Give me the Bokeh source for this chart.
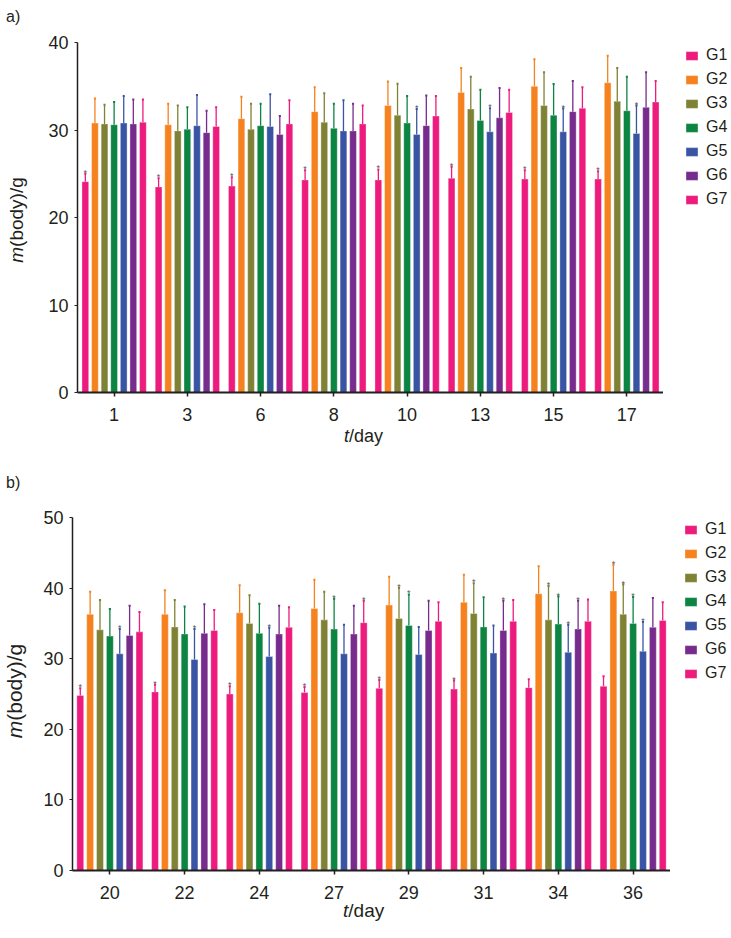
from bokeh.plotting import figure
from bokeh.models import (ColumnDataSource, FactorRange, Range1d, Legend, LegendItem,
                          FixedTicker, Div)
from bokeh.transform import dodge
from bokeh.layouts import column, row
from bokeh.embed import file_html
from bokeh.resources import INLINE
from bokeh.core.properties import value

FONT = "Liberation Sans"
INK = "#231F20"
groups = ["G1", "G2", "G3", "G4", "G5", "G6", "G7"]
colors = ["#EC1B7D", "#F5821F", "#7F8235", "#0C8442", "#3A54A4", "#762B8D", "#EC1B7D"]

# ---------------- panel a ----------------
days_a = ["1", "3", "6", "8", "10", "13", "15", "17"]
a_mean_G1 = [24.1, 23.5, 23.6, 24.3, 24.3, 24.5, 24.4, 24.4]
a_mean_G2 = [30.8, 30.6, 31.3, 32.1, 32.8, 34.3, 35.0, 35.4]
a_mean_G3 = [30.7, 29.9, 30.1, 30.9, 31.7, 32.4, 32.8, 33.3]
a_mean_G4 = [30.6, 30.1, 30.5, 30.2, 30.8, 31.1, 31.7, 32.2]
a_mean_G5 = [30.8, 30.5, 30.4, 29.9, 29.5, 29.8, 29.8, 29.6]
a_mean_G6 = [30.7, 29.7, 29.5, 29.9, 30.5, 31.4, 32.1, 32.6]
a_mean_G7 = [30.9, 30.4, 30.7, 30.7, 31.6, 32.0, 32.5, 33.2]
a_sd_G1 = [0.9, 1.0, 1.0, 1.1, 1.2, 1.3, 1.0, 0.9]
a_sd_G2 = [2.8, 2.4, 2.5, 2.8, 2.75, 2.8, 3.1, 3.1]
a_sd_G3 = [2.2, 2.9, 2.9, 3.3, 3.6, 3.7, 3.8, 3.8]
a_sd_G4 = [2.6, 2.5, 2.5, 2.8, 3.1, 3.5, 3.55, 3.9]
a_sd_G5 = [3.1, 3.5, 3.7, 3.5, 2.9, 2.7, 2.65, 3.2]
a_sd_G6 = [2.8, 2.5, 2.1, 3.1, 3.45, 3.4, 3.5, 4.0]
a_sd_G7 = [2.6, 2.2, 2.7, 2.1, 2.3, 2.6, 2.4, 2.4]
a_star_G1 = [1, 1, 1, 1, 1, 1, 1, 1]
a_star_G2 = [0, 0, 0, 0, 0, 0, 0, 0]
a_star_G3 = [0, 0, 0, 0, 0, 0, 0, 0]
a_star_G4 = [0, 0, 0, 0, 0, 0, 0, 0]
a_star_G5 = [0, 0, 0, 0, 1, 1, 1, 1]
a_star_G6 = [0, 0, 0, 0, 0, 0, 0, 0]
a_star_G7 = [0, 0, 0, 0, 0, 0, 0, 0]

# ---------------- panel b ----------------
days_b = ["20", "22", "24", "27", "29", "31", "34", "36"]
b_mean_G1 = [24.8, 25.3, 25.0, 25.2, 25.8, 25.7, 25.9, 26.1]
b_mean_G2 = [36.3, 36.3, 36.5, 37.1, 37.6, 38.0, 39.2, 39.6]
b_mean_G3 = [34.1, 34.5, 35.0, 35.5, 35.7, 36.4, 35.5, 36.3]
b_mean_G4 = [33.2, 33.5, 33.6, 34.2, 34.7, 34.5, 34.9, 35.0]
b_mean_G5 = [30.7, 29.9, 30.3, 30.7, 30.6, 30.8, 30.9, 31.05]
b_mean_G6 = [33.3, 33.6, 33.5, 33.5, 34.0, 34.0, 34.2, 34.45]
b_mean_G7 = [33.8, 34.0, 34.45, 35.1, 35.3, 35.3, 35.3, 35.4]
b_sd_G1 = [1.0, 1.0, 1.1, 0.8, 1.2, 1.2, 1.2, 1.4]
b_sd_G2 = [3.2, 3.4, 3.9, 4.1, 4.0, 3.9, 3.9, 3.7]
b_sd_G3 = [4.2, 3.8, 4.0, 4.0, 4.3, 4.3, 4.8, 4.2]
b_sd_G4 = [3.85, 3.9, 4.2, 4.3, 4.4, 4.2, 3.9, 3.75]
b_sd_G5 = [3.5, 4.3, 4.1, 4.1, 3.9, 3.9, 3.9, 4.15]
b_sd_G6 = [4.2, 4.1, 4.0, 4.0, 4.2, 4.2, 4.0, 4.15]
b_sd_G7 = [2.8, 2.9, 2.85, 3.1, 2.7, 3.0, 3.1, 2.6]
b_star_G1 = [1, 1, 1, 1, 1, 1, 0, 0]
b_star_G2 = [0, 0, 0, 0, 0, 0, 0, 1]
b_star_G3 = [0, 0, 0, 0, 1, 1, 1, 1]
b_star_G4 = [0, 0, 0, 1, 1, 0, 1, 1]
b_star_G5 = [1, 1, 1, 0, 0, 0, 1, 1]
b_star_G6 = [0, 0, 0, 0, 0, 1, 1, 0]
b_star_G7 = [0, 0, 0, 1, 0, 0, 0, 0]

y_ticks_a = [0, 10, 20, 30, 40]
y_ticks_b = [0, 10, 20, 30, 40, 50]
y_title_italic = "m"
y_title_rest = "(body)/g"
x_title_italic = "t"
x_title_rest = "/day"

a_means = [a_mean_G1, a_mean_G2, a_mean_G3, a_mean_G4, a_mean_G5, a_mean_G6, a_mean_G7]
a_sds = [a_sd_G1, a_sd_G2, a_sd_G3, a_sd_G4, a_sd_G5, a_sd_G6, a_sd_G7]
a_stars = [a_star_G1, a_star_G2, a_star_G3, a_star_G4, a_star_G5, a_star_G6, a_star_G7]
b_means = [b_mean_G1, b_mean_G2, b_mean_G3, b_mean_G4, b_mean_G5, b_mean_G6, b_mean_G7]
b_sds = [b_sd_G1, b_sd_G2, b_sd_G3, b_sd_G4, b_sd_G5, b_sd_G6, b_sd_G7]
b_stars = [b_star_G1, b_star_G2, b_star_G3, b_star_G4, b_star_G5, b_star_G6, b_star_G7]

LEFT_W = 38
PAGE_W = 731


def make_fig(days, means, sds, stars, ymax, yticks, w, h, bl, bt, bb, pitch):
    p = figure(width=w, height=h, x_range=FactorRange(*days), y_range=Range1d(0, ymax),
               output_backend="svg", toolbar_location=None,
               min_border_left=bl, min_border_right=0, min_border_top=bt,
               min_border_bottom=bb)
    p.outline_line_color = None
    p.xgrid.grid_line_color = None
    p.ygrid.grid_line_color = None

    for i, g in enumerate(groups):
        off = (i - 3) * pitch
        top = [m + s for m, s in zip(means[i], sds[i])]
        star = ["*" if f else "" for f in stars[i]]
        src = ColumnDataSource(dict(day=days, mean=means[i], top=top, star=star))
        xd = dodge("day", off, range=p.x_range)
        p.vbar(x=xd, top="mean", bottom=0, width=0.092, source=src,
               fill_color=colors[i], line_color="white", line_alpha=0.35, line_width=1)
        p.segment(x0=xd, y0="mean", x1=xd, y1="top", source=src,
                  line_color=colors[i], line_width=1.3)
        p.segment(x0=dodge("day", off - 0.014, range=p.x_range), y0="top",
                  x1=dodge("day", off + 0.014, range=p.x_range), y1="top", source=src,
                  line_color=colors[i], line_width=2)
        p.text(x=xd, y="top", text="star", source=src, text_align="center",
               text_baseline="alphabetic", y_offset=-1, text_font=value(FONT),
               text_font_size=value("9px"), text_color="#555555")

    for ax in (p.xaxis[0], p.yaxis[0]):
        ax.major_label_text_font = FONT
        ax.major_label_text_font_size = "18px"
        ax.major_label_text_color = INK
        ax.axis_line_color = INK
        ax.major_tick_line_color = INK
        ax.major_tick_in = 0
        ax.minor_tick_line_color = None
    p.xaxis.axis_line_width = 2
    p.xaxis.major_tick_out = 4
    p.xaxis.major_tick_line_width = 1.5
    p.xaxis.major_label_standoff = 11
    p.yaxis.axis_line_width = 1.5
    p.yaxis.major_tick_out = 3
    p.yaxis.major_label_standoff = 6
    p.yaxis.ticker = FixedTicker(ticks=yticks)
    return p


def legend_fig(w, h, loc):
    # legend-only figure; its frame is aligned with the neighbouring chart's frame
    q = figure(width=w, height=h, x_range=Range1d(0, 1), y_range=Range1d(0, 1),
               x_axis_type=None, y_axis_type=None, output_backend="svg",
               toolbar_location=None, min_border=0)
    q.outline_line_color = None
    q.xgrid.grid_line_color = None
    q.ygrid.grid_line_color = None
    items = []
    for i, g in enumerate(groups):
        # key swatches only: the bar sits outside the visible range
        r = q.vbar(x=[5], top=[5], bottom=[4], width=0.1, fill_color=colors[i],
                   line_color="white", line_alpha=0.35, line_width=1)
        items.append(LegendItem(label=g, renderers=[r]))
    legend = Legend(items=items, location=loc, orientation="vertical",
                    glyph_width=15, glyph_height=11, label_height=18, spacing=6,
                    padding=0, margin=0, label_standoff=7,
                    label_text_font=FONT, label_text_font_size="16px",
                    label_text_color=INK, label_text_baseline="middle",
                    border_line_alpha=0, background_fill_alpha=0)
    q.add_layout(legend)
    return q


def left_div(h, letter, letter_top, cx, cy, fs):
    html = (
        f'<div style="position:relative;width:{LEFT_W}px;height:{h}px;color:{INK};'
        f'font-family:\'{FONT}\';">'
        f'<div style="position:absolute;left:6px;top:{letter_top}px;line-height:0;'
        f'font-size:16px;white-space:nowrap;">{letter}</div>'
        f'<div style="position:absolute;left:{cx}px;top:{cy}px;width:0;height:0;">'
        f'<div style="position:absolute;left:0;top:0;line-height:1;white-space:nowrap;'
        f'font-size:{fs}px;transform:translate(-50%,-50%) rotate(-90deg);">'
        f'<i>{y_title_italic}</i>{y_title_rest}</div></div></div>'
    )
    return Div(text=html, width=LEFT_W, height=h, margin=0)


def bottom_div(w, h, left, top, fs):
    html = (
        f'<div style="position:relative;width:{w}px;height:{h}px;color:{INK};'
        f'font-family:\'{FONT}\';">'
        f'<div style="position:absolute;left:{left}px;top:{top}px;line-height:0;'
        f'font-size:{fs}px;white-space:nowrap;"><i>{x_title_italic}</i>{x_title_rest}</div></div>'
    )
    return Div(text=html, width=w, height=h, margin=0)


# panel a: page rows 0..455, frame x 77..663, y 42..392
fa_w = 663 - LEFT_W
pa = make_fig(days_a, a_means, a_sds, a_stars, 40, y_ticks_a, fa_w, 428,
              77 - LEFT_W, 42, 36, 0.131)
la = legend_fig(PAGE_W - 663, 428, (21, 392 - 208))
pa_left = left_div(455, "a)", 17, 16.4, 220, 19)
pa_bottom = bottom_div(PAGE_W - LEFT_W, 27, 344 - LEFT_W, 7.8, 18)

# panel b: page rows 455..930, frame x 72..670, y 517..870
fb_w = 670 - LEFT_W
pb = make_fig(days_b, b_means, b_sds, b_stars, 50, y_ticks_b, fb_w, 451,
              72 - LEFT_W, 62, 36, 0.132)
lb = legend_fig(PAGE_W - 670, 451, (13, 870 - 682))
pb_left = left_div(475, "b)", 27.5, 13.8, 235.5, 21)
pb_bottom = bottom_div(PAGE_W - LEFT_W, 24, 343 - LEFT_W, 5.4, 19)

layout = column(row(pa_left, column(row(pa, la), pa_bottom)),
                row(pb_left, column(row(pb, lb), pb_bottom)))
open("out.html", "w").write(file_html(layout, INLINE))
